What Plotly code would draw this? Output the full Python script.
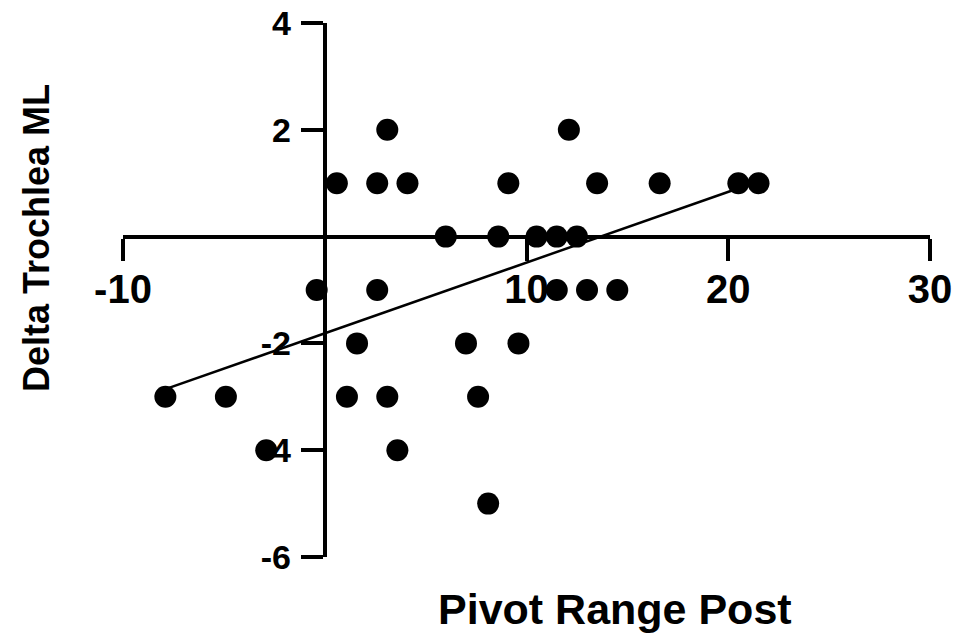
import numpy as np
import plotly.graph_objects as go

# Data
pivot_range_post = [-7.9, -4.9, -2.9, -0.4, 0.6, 1.1, 1.6, 2.6, 2.6, 3.1, 3.1, 3.6, 4.1,
                    6.0, 7.0, 7.6, 8.1, 8.6, 9.1, 9.6, 10.5, 11.5, 11.5, 12.1, 12.5,
                    13.0, 13.5, 14.5, 16.6, 20.5, 21.5]
delta_trochlea_ml = [-3, -3, -4, -1, 1, -3, -2, 1, -1, 2, -3, -4, 1,
                     0, -2, -3, -5, 0, 1, -2, 0, 0, -1, 2, 0,
                     -1, 1, -1, 1, 1, 1]

x_tickvals = [-10, 10, 20, 30]
x_ticktext = ["-10", "10", "20", "30"]
y_tickvals = [-6, -4, -2, 2, 4]
y_ticktext = ["-6", "-4", "-2", "2", "4"]
x_range = [-10, 30]
y_range = [-6, 4]

# Linear regression through the data
slope, intercept = np.polyfit(pivot_range_post, delta_trochlea_ml, 1)
fit_x = [min(pivot_range_post), max(pivot_range_post)]
fit_y = [intercept + slope * v for v in fit_x]

FONT = "Liberation Sans, Arial, sans-serif"

fig = go.Figure()
fig.add_trace(go.Scatter(x=fit_x, y=fit_y, mode="lines",
                         line=dict(color="black", width=2.5), hoverinfo="skip"))
fig.add_trace(go.Scatter(x=pivot_range_post, y=delta_trochlea_ml, mode="markers",
                         marker=dict(color="black", size=22), cliponaxis=False))

x_pos = (0 - y_range[0]) / (y_range[1] - y_range[0])
y_pos = (0 - x_range[0]) / (x_range[1] - x_range[0])

fig.update_layout(
    width=959, height=636,
    margin=dict(l=123, r=29, t=23, b=79, autoexpand=False),
    paper_bgcolor="white", plot_bgcolor="white",
    showlegend=False,
    xaxis=dict(range=x_range, domain=[0, 1], anchor="free", position=x_pos,
               automargin=False,
               showgrid=False, zeroline=False, showline=True, linecolor="black",
               linewidth=4, ticks="outside", ticklen=22, tickwidth=4, tickcolor="black",
               tickvals=x_tickvals, ticktext=x_ticktext, ticklabelstandoff=-6,
               tickfont=dict(family=FONT, size=40, color="black", weight="bold")),
    yaxis=dict(range=y_range, domain=[0, 1], anchor="free", position=y_pos,
               automargin=False,
               showgrid=False, zeroline=False, showline=True, linecolor="black",
               linewidth=4, ticks="outside", ticklen=22, tickwidth=4, tickcolor="black",
               tickvals=y_tickvals, ticktext=y_ticktext, ticklabelstandoff=3,
               tickfont=dict(family=FONT, size=34, color="black", weight="bold")),
    annotations=[
        dict(text="Pivot Range Post", x=(615 - 123) / 807, y=-0.097, xref="paper", yref="paper",
             xanchor="center", yanchor="middle", showarrow=False,
             font=dict(family=FONT, size=43, color="black", weight="bold")),
        dict(text="Delta Trochlea ML", x=-0.108, y=0.597, xref="paper", yref="paper",
             xanchor="center", yanchor="middle", showarrow=False, textangle=-90,
             font=dict(family=FONT, size=36, color="black", weight="bold")),
    ],
)

fig.write_html("out.html", config={"displayModeBar": False},
               post_script="document.body.style.margin='0';document.body.style.overflow='hidden';")
